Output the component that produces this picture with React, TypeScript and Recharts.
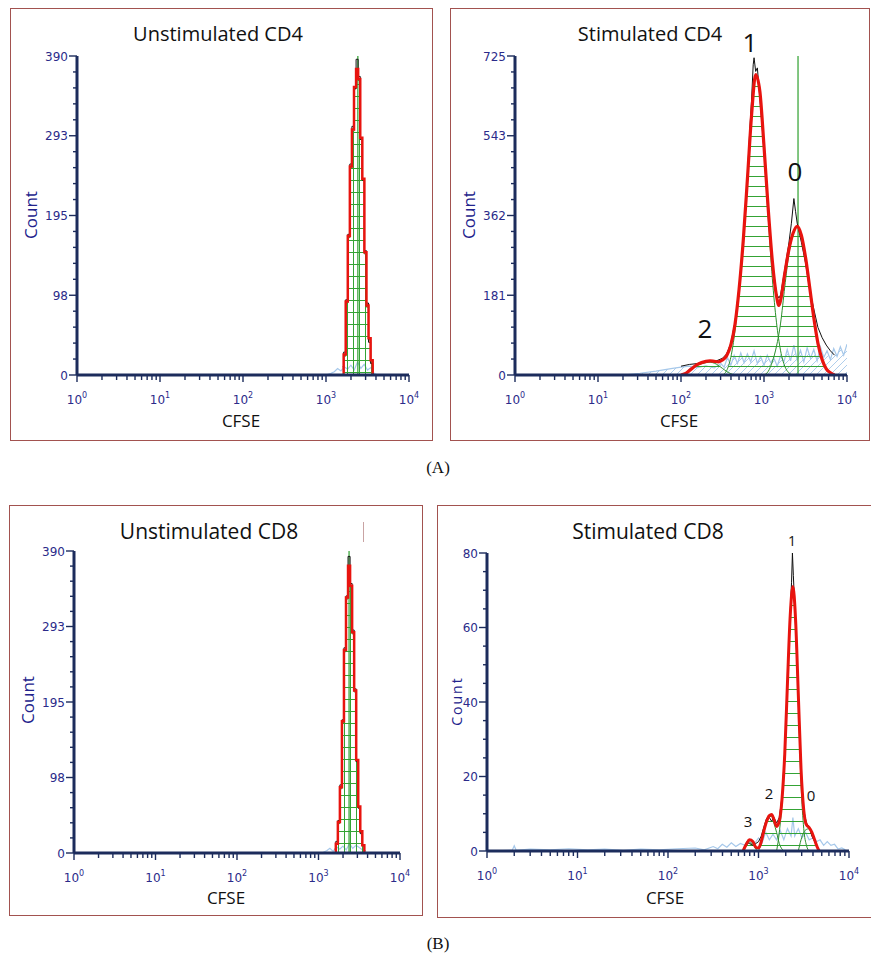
import React from 'react';
import { ComposedChart, Line, Area, XAxis, YAxis, ReferenceLine } from 'recharts';

const AXIS = '#1c2c5c';
const TICK_TXT = '#2b2b8a';
const COUNT_TXT = '#23238c';
const RED = '#e8140f';
const BLACK = '#111111';
const GREEN = '#2b8f2b';
const HATCH = '#34a334';
const BLUE = '#a6c8ea';
const BORDER = '#a2524f';
const SANS = "'Open Sans', sans-serif";
const TICKFONT = "'DejaVu Sans', Verdana, sans-serif";

// shared log axis ticks (CFSE)
const X_TICKS = [1, 2, 3, 4, 5, 6, 7, 8, 9, 10, 20, 30, 40, 50, 60, 70, 80, 90, 100, 200, 300, 400, 500, 600, 700, 800, 900, 1000, 2000, 3000, 4000, 5000, 6000, 7000, 8000, 9000, 10000];
const X_DECADES = [1, 10, 100, 1000, 10000];
const X_EXP = ['0', '1', '2', '3', '4'];

// ---------- (A) Unstimulated CD4 ----------
const a1YTicks = [0, 19.5, 39, 58.5, 78, 97.5, 117, 136.5, 156, 175.5, 195, 214.5, 234, 253.5, 273, 292.5, 312, 331.5, 351, 370.5, 390];
const a1YMajors = [0, 97.5, 195, 292.5, 390];
const a1YLabels = ['0', '98', '195', '293', '390'];
const a1Cfse = [1585, 1679, 1778, 1884, 1995, 2113, 2239, 2371, 2512, 2661, 2818, 2985, 3162, 3350, 3548, 3758];
const a1Fit = [3, 25, 90, 170, 255, 300, 352, 374, 362, 290, 240, 150, 85, 45, 18, 3];
const a1Raw = [10, 28, 92, 172, 258, 304, 350, 386, 365, 288, 238, 152, 88, 40, 14, 2];
const a1Gen0 = [2, 23, 88, 168, 253, 298, 350, 372, 360, 288, 238, 148, 83, 43, 16, 2];
const a1BgCfse = [1000, 1148, 1259, 1380, 1514, 1660, 1820, 1995, 2188, 2399, 2630, 2884, 3162, 3467, 3802, 4169];
const a1Bg = [0, 2, 4, 8, 5, 10, 7, 12, 6, 16, 8, 13, 6, 9, 2, 0];
const a1Parent = 2420;

// ---------- (A) Stimulated CD4 ----------
const a2YTicks = [0, 36.25, 72.5, 108.75, 145, 181.25, 217.5, 253.75, 290, 326.25, 362.5, 398.75, 435, 471.25, 507.5, 543.75, 580, 616.25, 652.5, 688.75, 725];
const a2YMajors = [0, 181.25, 362.5, 543.75, 725];
const a2YLabels = ['0', '181', '362', '543', '725'];
const a2FitCfse = [100, 112, 126, 158, 200, 224, 251, 282, 316, 355, 398, 447, 501, 562, 631, 708, 794, 891, 1000, 1122, 1259, 1413, 1514, 1585, 1778, 1995, 2239, 2512, 2818, 3162, 3548, 3981, 4467, 5012, 5623, 6310, 7079];
const a2Fit = [0, 3, 10, 24, 31, 32, 31, 30, 34, 44, 68, 115, 195, 305, 445, 590, 683, 645, 520, 380, 260, 180, 158, 170, 230, 285, 322, 338, 318, 268, 200, 130, 72, 35, 14, 5, 0];
const a2RawCfse = [100, 126, 158, 200, 251, 316, 355, 398, 447, 501, 562, 631, 676, 708, 741, 759, 794, 832, 891, 1000, 1122, 1259, 1413, 1514, 1585, 1778, 1995, 2138, 2291, 2399, 2512, 2818, 3162, 3548, 3981, 4467, 5012, 5623, 6310, 7079];
const a2Raw = [20, 24, 26, 32, 30, 38, 48, 72, 120, 200, 310, 455, 560, 625, 705, 721, 690, 698, 630, 510, 375, 255, 185, 175, 182, 240, 300, 345, 401, 372, 345, 302, 255, 195, 150, 108, 85, 68, 55, 45];
const a2Gen2Cfse = [100, 112, 126, 158, 200, 224, 251, 316, 355, 398, 447];
const a2Gen2 = [0, 4, 10, 22, 28, 29, 27, 15, 8, 3, 0];
const a2Gen1Cfse = [316, 355, 398, 447, 501, 562, 631, 708, 794, 891, 1000, 1122, 1259, 1413, 1585, 1778, 1995, 2239];
const a2Gen1 = [0, 10, 40, 100, 190, 300, 440, 588, 683, 640, 510, 360, 220, 120, 55, 20, 5, 0];
const a2Gen0Cfse = [1000, 1122, 1259, 1413, 1585, 1778, 1995, 2239, 2512, 2818, 3162, 3548, 3981, 4467, 5012, 5623, 6310, 7079];
const a2Gen0 = [0, 8, 30, 65, 118, 200, 275, 320, 338, 318, 268, 200, 130, 72, 35, 14, 5, 0];
const a2BgCfse = [20, 32, 50, 79, 100, 126, 158, 200, 251, 302, 331, 363, 398, 437, 479, 525, 575, 631, 692, 759, 832, 912, 1000, 1096, 1202, 1318, 1445, 1585, 1738, 1905, 2089, 2291, 2512, 2754, 3020, 3311, 3631, 3981, 4365, 4786, 5248, 5754, 6310, 6918, 7586, 8318, 9120, 10000];
const a2Bg = [0, 4, 9, 15, 18, 20, 17, 21, 16, 26, 18, 40, 22, 45, 26, 50, 28, 48, 30, 55, 26, 42, 22, 45, 28, 38, 20, 44, 30, 58, 32, 68, 34, 56, 30, 62, 38, 58, 32, 64, 40, 55, 35, 60, 42, 64, 45, 70];
const a2Parent = 2570;

// ---------- (B) Unstimulated CD8 ----------
const b1YTicks = a1YTicks;
const b1YMajors = [0, 97.5, 195, 292.5, 390];
const b1YLabels = ['0', '98', '195', '293', '390'];
const b1Cfse = [1585, 1679, 1778, 1884, 1995, 2113, 2239, 2371, 2512, 2661, 2818, 2985, 3162, 3350, 3548, 3758];
const b1Fit = [2, 12, 40, 85, 170, 262, 330, 371, 345, 285, 210, 120, 60, 28, 10, 2];
const b1Raw = [5, 15, 42, 88, 172, 265, 332, 383, 348, 288, 212, 118, 58, 25, 10, 3];
const b1Gen0 = [1, 11, 38, 83, 168, 260, 328, 369, 343, 283, 208, 118, 58, 26, 9, 1];
const b1BgCfse = [1000, 1148, 1259, 1380, 1514, 1660, 1820, 1995, 2188, 2399, 2630, 2884, 3162, 3467, 3802, 4169];
const b1Bg = [0, 1, 3, 6, 2, 8, 5, 9, 4, 12, 6, 10, 7, 4, 1, 0];
const b1Parent = 2371;

// ---------- (B) Stimulated CD8 ----------
const b2YTicks = [0, 5, 10, 15, 20, 25, 30, 35, 40, 45, 50, 55, 60, 65, 70, 75, 80];
const b2YMajors = [0, 20, 40, 60, 80];
const b2YLabels = ['0', '20', '40', '60', '80'];
const b2FitCfse = [676, 741, 794, 871, 933, 1000, 1072, 1148, 1230, 1318, 1396, 1479, 1585, 1698, 1820, 1950, 2089, 2239, 2399, 2570, 2754, 2951, 3162, 3388, 3631, 3890, 4169, 4467, 4677];
const b2Fit = [0, 2, 3, 2.5, 1, 0.8, 2.5, 5.5, 8, 9.5, 9.8, 8.5, 6.6, 8, 14, 26, 45, 63, 71, 62, 42, 22, 11, 7, 6.3, 5, 3, 1, 0];
const b2RawCfse = [676, 741, 794, 871, 933, 1000, 1072, 1148, 1230, 1318, 1396, 1479, 1585, 1698, 1820, 1950, 2089, 2239, 2317, 2371, 2427, 2570, 2754, 2951, 3162, 3388, 3631, 3890, 4169, 4467];
const b2Raw = [0.5, 2.5, 2, 1.5, 2, 2.5, 4, 6.5, 8.8, 9, 8, 9, 7.5, 9, 14.5, 27, 46, 64, 72, 80, 74, 60, 41, 22, 11, 7.5, 6.5, 4, 2.5, 1];
const b2Gen3Cfse = [676, 741, 794, 871, 933, 1000];
const b2Gen3 = [0, 1.5, 2.2, 1.8, 0.5, 0];
const b2Gen2Cfse = [1000, 1072, 1148, 1230, 1318, 1396, 1479, 1585, 1698, 1820, 1950];
const b2Gen2 = [0, 2, 5, 7.8, 9.2, 9.3, 7.5, 5, 2, 0.5, 0];
const b2Gen1Cfse = [1585, 1698, 1820, 1950, 2089, 2239, 2399, 2570, 2754, 2951, 3162, 3388, 3631];
const b2Gen1 = [0, 5, 13, 25, 44, 62, 71, 61, 40, 18, 6, 1.5, 0];
const b2Gen0Cfse = [2754, 2951, 3162, 3388, 3631, 3890, 4169, 4467, 4677];
const b2Gen0 = [0, 3, 5, 5.8, 6, 4.8, 2.8, 1, 0];
const b2BgCfse = [1, 1.9, 2, 2.1, 3, 5, 8, 13, 20, 32, 50, 80, 126, 200, 251, 316, 355, 398, 447, 501, 562, 631, 708, 794, 891, 1000, 1096, 1202, 1318, 1445, 1585, 1738, 1905, 2089, 2291, 2399, 2512, 2754, 3020, 3311, 3631, 3981, 4365, 4786, 5248, 5754, 6310, 6918, 7586, 8318, 9120];
const b2Bg = [0, 0.2, 1.4, 0.2, 0.5, 0.3, 0.6, 0.3, 0.5, 0.2, 0.5, 0.3, 0.6, 0.8, 0.3, 1.2, 0.6, 1.8, 1, 2.2, 1.2, 2, 1.5, 2.6, 1.8, 3.5, 2.2, 5, 3, 4.5, 3, 5.5, 3, 6, 4, 9, 4, 6, 3.5, 5, 3, 3.5, 2.5, 3, 1.5, 2.5, 1.5, 1.8, 0.5, 0.8, 0.3];

const pts = (xs: number[], ys: number[]) => xs.map((x, i) => ({ x, v: ys[i] }));

function XTick(props: any) {
  const { x, y, payload } = props;
  const i = X_DECADES.indexOf(payload.value);
  const major = i >= 0;
  return (
    <g>
      <line x1={x} x2={x} y1={y} y2={y + (major ? 7 : 5)} stroke={AXIS} strokeWidth={1.4} />
      {major && (
        <text x={x} y={y + 29} textAnchor="middle" fill={TICK_TXT} fontSize={12} fontFamily={TICKFONT}>
          10<tspan dy={-6} fontSize={8}>{X_EXP[i]}</tspan>
        </text>
      )}
    </g>
  );
}

function makeYTick(majors: number[], labels: string[]) {
  return function YTick(props: any) {
    const { x, y, payload } = props;
    const i = majors.indexOf(payload.value);
    const major = i >= 0;
    return (
      <g>
        <line x1={x} x2={x - (major ? 8 : 4)} y1={y} y2={y} stroke={AXIS} strokeWidth={1.4} />
        {major && (
          <text x={x - 9} y={y + 4.5} textAnchor="end" fill={TICK_TXT} fontSize={12} fontFamily={TICKFONT}>
            {labels[i]}
          </text>
        )}
      </g>
    );
  };
}

type PanelProps = {
  id: string;
  left: number;
  top: number;
  plotW: number;
  plotH: number;
  yMax: number;
  yTicks: number[];
  yMajors: number[];
  yLabels: string[];
  bg: { x: number; v: number }[];
  bgHatch?: boolean;
  comps: { x: number; v: number }[][];
  raw: { x: number; v: number }[];
  fit: { x: number; v: number }[];
  curve: 'step' | 'monotone';
  fitWidth: number;
  refX?: number;
  hatchGap: number;
  vGap?: number;
};

function HistPanel(p: PanelProps) {
  const W = 60 + p.plotW + 20;
  const H = 20 + p.plotH + 40;
  const YTick = makeYTick(p.yMajors, p.yLabels);
  const pw = p.vGap || 10;
  return (
    <div style={{ position: 'absolute', left: p.left, top: p.top, width: W, height: H }}>
      <ComposedChart width={W} height={H} margin={{ top: 20, right: 20, left: 0, bottom: 0 }}>
        <defs>
          <pattern id={`h-${p.id}`} patternUnits="userSpaceOnUse" width={pw} height={p.hatchGap}>
            <line x1={0} x2={pw} y1={0.5} y2={0.5} stroke={HATCH} strokeWidth={1} />
            {p.vGap ? <line x1={0.5} x2={0.5} y1={0} y2={p.hatchGap} stroke={HATCH} strokeWidth={1} /> : null}
          </pattern>
          <pattern id={`b-${p.id}`} patternUnits="userSpaceOnUse" width={7} height={7}>
            <path d="M0,7 L7,0" stroke={BLUE} strokeWidth={0.9} />
          </pattern>
        </defs>
        <XAxis
          dataKey="x"
          type="number"
          scale="log"
          domain={[1, 10000]}
          allowDataOverflow
          ticks={X_TICKS}
          interval={0}
          tick={XTick}
          tickLine={false}
          tickSize={0}
          tickMargin={0}
          axisLine={{ stroke: AXIS, strokeWidth: 3 }}
          height={40}
        />
        <YAxis
          type="number"
          domain={[0, p.yMax]}
          allowDataOverflow
          ticks={p.yTicks}
          interval={0}
          tick={YTick}
          tickLine={false}
          tickSize={0}
          tickMargin={0}
          axisLine={{ stroke: AXIS, strokeWidth: 3 }}
          width={60}
        />
        <Area
          data={p.bg}
          dataKey="v"
          type="linear"
          stroke={BLUE}
          strokeWidth={1.2}
          fill={p.bgHatch ? `url(#b-${p.id})` : 'none'}
          fillOpacity={1}
          isAnimationActive={false}
          dot={false}
          activeDot={false}
        />
        {p.comps.map((c, i) => (
          <Area
            key={i}
            data={c}
            dataKey="v"
            type={p.curve}
            stroke={GREEN}
            strokeWidth={1}
            fill={`url(#h-${p.id})`}
            fillOpacity={1}
            isAnimationActive={false}
            dot={false}
            activeDot={false}
          />
        ))}
        {p.refX ? <ReferenceLine x={p.refX} stroke="#2ea02e" strokeWidth={1.2} /> : null}
        <Line
          data={p.raw}
          dataKey="v"
          type={p.curve === 'step' ? 'step' : 'linear'}
          stroke={BLACK}
          strokeWidth={1}
          dot={false}
          activeDot={false}
          isAnimationActive={false}
        />
        <Line
          data={p.fit}
          dataKey="v"
          type={p.curve}
          stroke={RED}
          strokeWidth={p.fitWidth}
          dot={false}
          activeDot={false}
          isAnimationActive={false}
        />
      </ComposedChart>
    </div>
  );
}

function Txt(props: { x: number; y: number; size: number; color?: string; family?: string; rotate?: boolean; spacing?: number; children: React.ReactNode }) {
  const { x, y, size, color = '#111', family = SANS, rotate = false, spacing = 0, children } = props;
  return (
    <div
      style={{
        position: 'absolute',
        left: x,
        top: y,
        transform: `translate(-50%, -50%)${rotate ? ' rotate(-90deg)' : ''}`,
        fontSize: size,
        color,
        fontFamily: family,
        lineHeight: 1,
        whiteSpace: 'nowrap',
        letterSpacing: spacing,
      }}
    >
      {children}
    </div>
  );
}

function Box({ left, top, width, height }: { left: number; top: number; width: number; height: number }) {
  return (
    <div
      style={{
        position: 'absolute',
        left,
        top,
        width,
        height,
        border: `1.5px solid ${BORDER}`,
        boxSizing: 'border-box',
      }}
    />
  );
}

export default function App() {
  return (
    <div style={{ position: 'absolute', left: 0, top: 0, width: 871, height: 956, background: '#fff', overflow: 'hidden' }}>
      <Box left={10} top={8} width={423} height={433} />
      <Box left={450} top={8} width={420} height={433} />
      <Box left={9} top={505} width={414} height={411} />
      <Box left={437} top={505} width={436} height={413} />

      <HistPanel
        id="a1"
        left={17}
        top={36}
        plotW={332}
        plotH={319}
        yMax={390}
        yTicks={a1YTicks}
        yMajors={a1YMajors}
        yLabels={a1YLabels}
        bg={pts(a1BgCfse, a1Bg)}
        comps={[pts(a1Cfse, a1Gen0)]}
        raw={pts(a1Cfse, a1Raw)}
        fit={pts(a1Cfse, a1Fit)}
        curve="step"
        fitWidth={2.5}
        refX={a1Parent}
        hatchGap={12}
        vGap={6}
      />
      <HistPanel
        id="a2"
        left={455}
        top={36}
        plotW={332}
        plotH={319}
        yMax={725}
        yTicks={a2YTicks}
        yMajors={a2YMajors}
        yLabels={a2YLabels}
        bg={pts(a2BgCfse, a2Bg)}
        bgHatch
        comps={[pts(a2Gen2Cfse, a2Gen2), pts(a2Gen1Cfse, a2Gen1), pts(a2Gen0Cfse, a2Gen0)]}
        raw={pts(a2RawCfse, a2Raw)}
        fit={pts(a2FitCfse, a2Fit)}
        curve="monotone"
        fitWidth={3.2}
        refX={a2Parent}
        hatchGap={10}
      />
      <HistPanel
        id="b1"
        left={14}
        top={531}
        plotW={326}
        plotH={302}
        yMax={390}
        yTicks={b1YTicks}
        yMajors={b1YMajors}
        yLabels={b1YLabels}
        bg={pts(b1BgCfse, b1Bg)}
        comps={[pts(b1Cfse, b1Gen0)]}
        raw={pts(b1Cfse, b1Raw)}
        fit={pts(b1Cfse, b1Fit)}
        curve="step"
        fitWidth={2.5}
        refX={b1Parent}
        hatchGap={12}
        vGap={6}
      />
      <HistPanel
        id="b2"
        left={427}
        top={533}
        plotW={362}
        plotH={298}
        yMax={80}
        yTicks={b2YTicks}
        yMajors={b2YMajors}
        yLabels={b2YLabels}
        bg={pts(b2BgCfse, b2Bg)}
        comps={[pts(b2Gen3Cfse, b2Gen3), pts(b2Gen2Cfse, b2Gen2), pts(b2Gen1Cfse, b2Gen1), pts(b2Gen0Cfse, b2Gen0)]}
        raw={pts(b2RawCfse, b2Raw)}
        fit={pts(b2FitCfse, b2Fit)}
        curve="monotone"
        fitWidth={3}
        hatchGap={12}
      />

      {/* titles */}
      <Txt x={218} y={34} size={20}>Unstimulated CD4</Txt>
      <Txt x={650} y={34} size={20}>Stimulated CD4</Txt>
      <Txt x={209} y={531} size={21}>Unstimulated CD8</Txt>
      <Txt x={648} y={531} size={21}>Stimulated CD8</Txt>
      <div style={{ position: 'absolute', left: 363, top: 522, width: 1, height: 20, background: '#c9a3a3' }} />

      {/* axis titles */}
      <Txt x={30} y={215} size={17} color={COUNT_TXT} rotate>Count</Txt>
      <Txt x={468} y={215} size={17} color={COUNT_TXT} rotate>Count</Txt>
      <Txt x={27} y={700} size={17} color={COUNT_TXT} rotate>Count</Txt>
      <Txt x={457} y={701} size={14} color={COUNT_TXT} rotate spacing={2}>Count</Txt>
      <Txt x={241} y={420} size={17}>CFSE</Txt>
      <Txt x={679} y={420} size={17}>CFSE</Txt>
      <Txt x={226} y={897} size={17}>CFSE</Txt>
      <Txt x={665} y={897} size={17}>CFSE</Txt>

      {/* generation labels */}
      <Txt x={750} y={42} size={26}>1</Txt>
      <Txt x={795} y={171} size={26}>0</Txt>
      <Txt x={705} y={328} size={26}>2</Txt>
      <Txt x={792} y={541} size={14}>1</Txt>
      <Txt x={769} y={793} size={15}>2</Txt>
      <Txt x={811} y={795} size={15}>0</Txt>
      <Txt x={748} y={821} size={15}>3</Txt>

      {/* captions */}
      <Txt x={438} y={467} size={17} family="'Liberation Serif', 'Times New Roman', serif">(A)</Txt>
      <Txt x={438} y={943} size={17} family="'Liberation Serif', 'Times New Roman', serif">(B)</Txt>
    </div>
  );
}
